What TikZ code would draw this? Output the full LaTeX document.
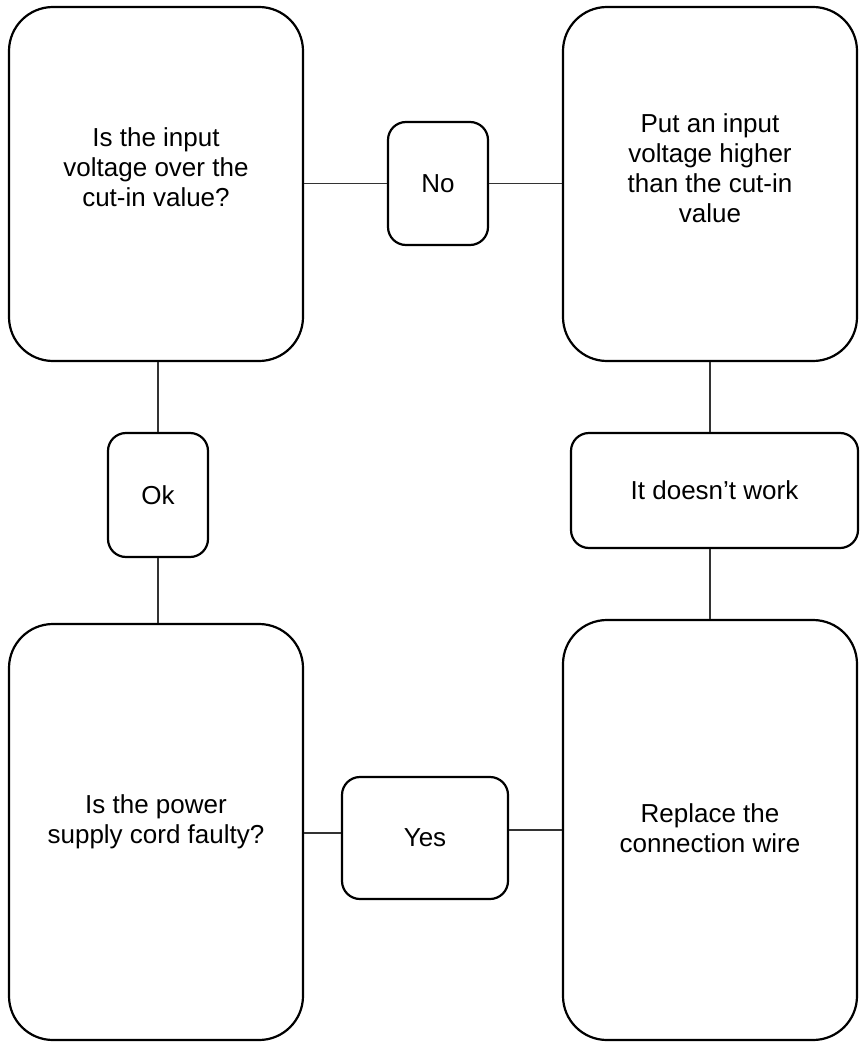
\documentclass[tikz,border=0pt]{standalone}
\usepackage{fontspec}
\setmainfont{Liberation Sans}
\begin{document}
\begin{tikzpicture}[x=1pt,y=-1pt,
  font=\fontsize{26}{30}\selectfont,
  box/.style={draw, line width=2.2pt, rounded corners=44pt, inner sep=0pt, align=center},
  tag/.style={draw, line width=2.2pt, rounded corners=18pt, inner sep=0pt, align=center},
  txt/.style={align=center, inner sep=0pt},
  wire/.style={line width=1.2pt, black!80}]
\useasboundingbox (0,0) rectangle (860,1043);
% big boxes
\node[box, minimum width=294pt, minimum height=354pt,
  label={[txt, name=b1t, yshift=16.5pt]center:{Is the input\\voltage over the\\cut-in value?}}] (b1) at (156,184) {};
\node[box, minimum width=294pt, minimum height=354pt,
  label={[txt, name=b2t, yshift=15.5pt]center:{Put an input\\voltage higher\\than the cut-in\\value}}] (b2) at (710,184) {};
\node[box, minimum width=294pt, minimum height=416pt,
  label={[txt, name=b3t, yshift=10.5pt]center:{Is the power\\supply cord faulty?}}] (b3) at (156,832) {};
\node[box, minimum width=294pt, minimum height=420pt,
  label={[txt, name=b4t, yshift=1.5pt]center:{Replace the\\connection wire}}] (b4) at (710,830) {};
% small tags
\node[tag, minimum width=100pt, minimum height=123pt] (no) at (438,183.5) {No};
\node[tag, minimum width=100pt, minimum height=124pt] (ok) at (158,495) {Ok};
\node[tag, minimum width=287pt, minimum height=115pt] (idw) at (714.5,490.5) {It doesn’t work};
\node[tag, minimum width=166pt, minimum height=122pt] (yes) at (425,838) {Yes};
% helper coordinates
\coordinate (yl) at (0,833);
\coordinate (yr) at (0,830);
% connectors
\draw[wire] (b1.east |- no.west) -- (no.west);
\draw[wire] (no.east) -- (b2.west |- no.east);
\draw[wire] (ok.north |- b1.south) -- (ok.north);
\draw[wire] (ok.south) -- (ok.south |- b3.north);
\draw[wire] (b2.south) -- (b2.south |- idw.north);
\draw[wire] (b4.north |- idw.south) -- (b4.north);
\draw[wire] (b3.east |- yl) -- (yes.west |- yl);
\draw[wire] (yes.east |- yr) -- (b4.west |- yr);
\end{tikzpicture}
\end{document}
